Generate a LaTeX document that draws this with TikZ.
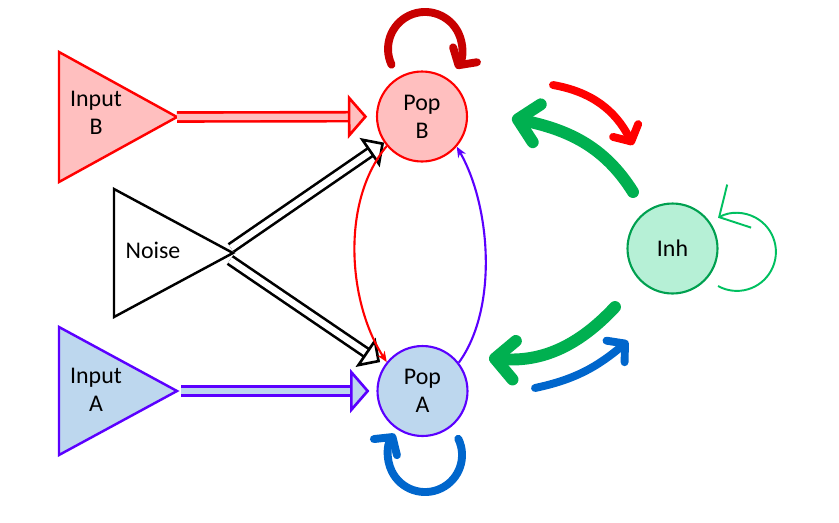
\documentclass[tikz,border=0pt]{standalone}
\usepackage{fontspec}
\setmainfont{Carlito}
\usetikzlibrary{arrows.meta,positioning,calc}
\definecolor{popbred}{HTML}{FF0000}
\definecolor{popbfill}{HTML}{FFBFBF}
\definecolor{popaline}{HTML}{5B00FF}
\definecolor{popafill}{HTML}{BDD7EE}
\definecolor{inhline}{HTML}{00A050}
\definecolor{inhfill}{HTML}{B6F0D6}
\definecolor{inhgreen}{HTML}{00B050}
\definecolor{loopgreen}{HTML}{00C060}
\definecolor{loopred}{HTML}{C80000}
\definecolor{loopblue}{HTML}{0066CC}

\tikzset{
  txt/.style={align=center, inner sep=0pt, font=\fontsize{13.6}{16}\selectfont},
  pop/.style={circle, line width=1.2pt, minimum size=1.8cm, inner sep=0pt,
    align=center, font=\fontsize{13.6}{16}\selectfont},
  blockarrow/.style={double, double distance=3.6pt, line width=1.5pt},
  fatarrow/.style={inhgreen, line width=6.8pt, line cap=round,
    -{Straight Barb[length=11pt,width=22pt,round]}},
  midarrow/.style={line width=4.5pt, line cap=round,
    -{Straight Barb[length=7pt,width=16pt,round]}},
}

\begin{document}
\begin{tikzpicture}[x=0.02cm, y=0.02cm]
  \useasboundingbox (0,0) rectangle (839,-522);
  % Input and noise triangles
  \draw[popbred, fill=popbfill, line width=1.4pt]
    (59,-52) -- (59,-182) -- (177,-117) coordinate (inBtip) -- cycle;
  \node[txt] (inBtxt) at (96,-113) {Input\\B};
  \draw[popaline, fill=popafill, line width=1.4pt]
    (59,-327) -- (59,-455) -- (177,-391) coordinate (inAtip) -- cycle;
  \node[txt] (inAtxt) at (96,-390) {Input\\A};
  \draw[black, line width=1.4pt]
    (114,-189) -- (114,-317) -- (233,-253) -- cycle;
  \node[txt] (noisetxt) at (153,-250) {Noise};
  \coordinate (nz1) at (231,-248);
  \coordinate (nz2) at (230,-260);
  % Populations
  \node[pop, draw=popbred, fill=popbfill] (popB) at (422,-116.5) {Pop\\B};
  \node[pop, draw=popaline, fill=popafill] (popA) at (422.5,-391) {Pop\\A};
  \node[pop, draw=inhline, fill=inhfill] (inh) at (672.5,-248.5) {Inh};
  % Feed-forward block arrows
  \draw[blockarrow, popbred, double=popbfill, shorten >=5pt,
    -{Triangle[length=11pt,width=25pt,fill=popbfill,line width=1.5pt]}]
    (inBtip) -- (popB);
  \draw[blockarrow, popaline, double=popafill, shorten >=4pt,
    -{Triangle[length=11pt,width=25pt,fill=popafill,line width=1.5pt]}]
    ($(inAtip)+(4,0)$) -- (popA);
  \draw[blockarrow, black, double=white,
    -{Triangle[length=10pt,width=20pt,fill=white,line width=1.5pt]}]
    (nz1) -- (popB);
  \draw[blockarrow, black, double=white, shorten >=3pt,
    -{Triangle[length=10pt,width=20pt,fill=white,line width=1.5pt]}]
    (nz2) -- (popA);
  % Cross connections between populations
  \draw[popbred, line width=1.2pt, -{Stealth[length=6pt,width=5pt]}]
    (popB.220) to[out=230, in=123, looseness=0.85] (popA.141);
  \draw[popaline, line width=1.2pt, -{Stealth[length=6pt,width=5pt]}]
    (popA.38) to[out=54, in=-60, looseness=0.8] (popB.-41);
  % Self loops
  \draw[midarrow, loopred] (391.5,-64.6) arc[start angle=205, end angle=-32, radius=37];
  \draw[midarrow, loopblue] (458.3,-438.8) arc[start angle=26, end angle=-215, radius=37];
  \draw[loopgreen, line width=1.1pt, -{Straight Barb[length=13pt,width=28pt,quick]}]
    (718,-286) arc[start angle=-119, end angle=119, radius=39];
  % Excitation and inhibition around Inh
  \coordinate (exBs) at (553,-85);
  \coordinate (exBe) at (633,-145);
  \coordinate (exAs) at (535,-388);
  \coordinate (exAe) at (628,-341);
  \coordinate (inhBs) at (633,-192);
  \coordinate (inhBe) at (512,-118);
  \coordinate (inhAs) at (615,-307);
  \coordinate (inhAe) at (489,-358);
  \draw[midarrow, popbred] (exBs) to[out=-10, in=117] (exBe);
  \draw[midarrow, loopblue] (exAs) to[out=12, in=220] (exAe);
  \draw[fatarrow] (inhBs) to[out=122, in=-12] (inhBe);
  \draw[fatarrow] (inhAs) to[out=227, in=-5] (inhAe);
\end{tikzpicture}
\end{document}
